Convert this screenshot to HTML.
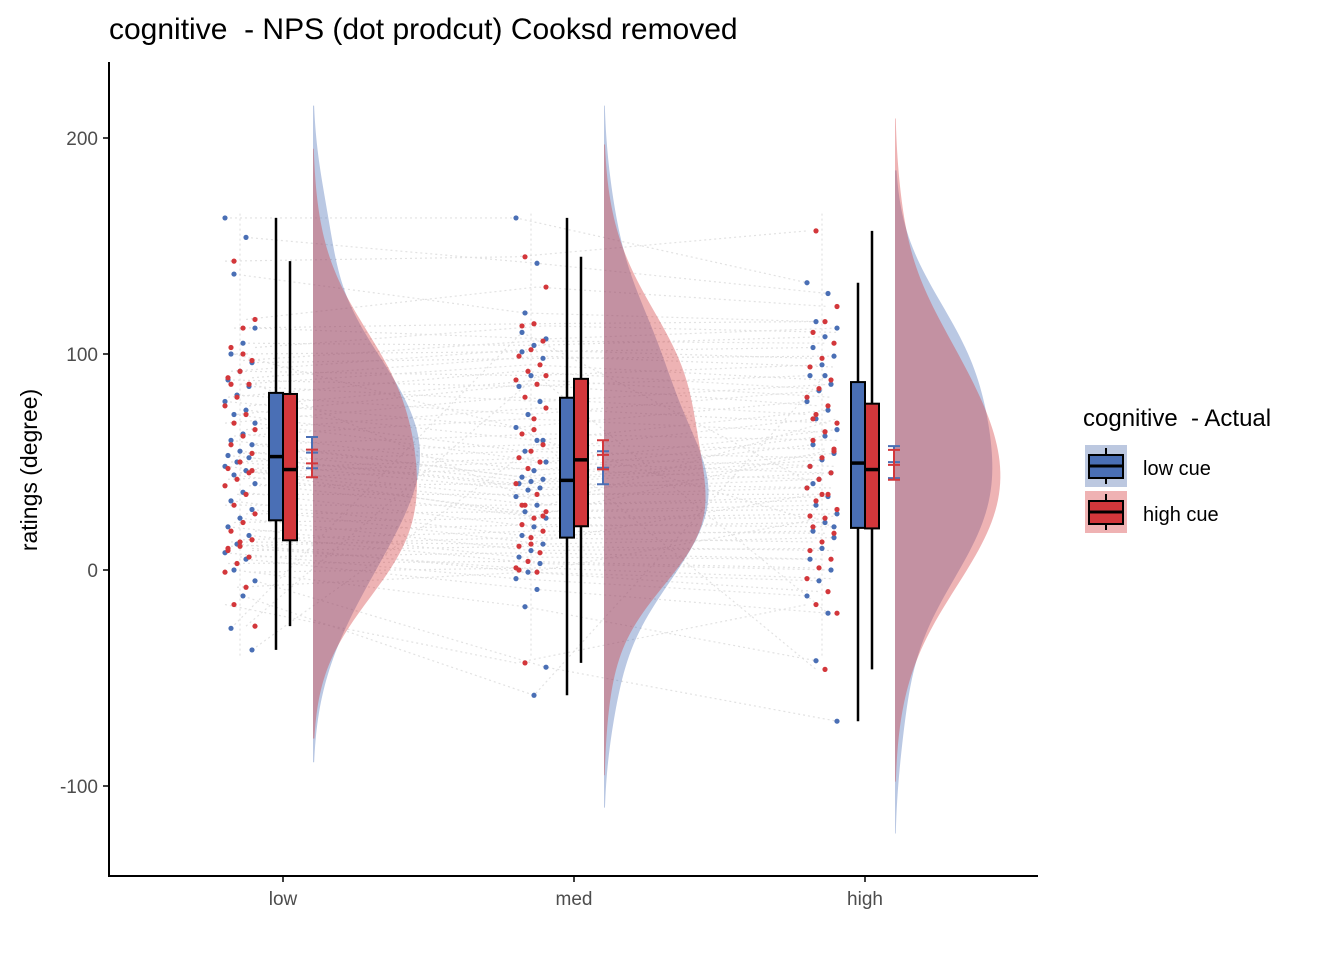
<!DOCTYPE html>
<html><head><meta charset="utf-8"><style>
body{margin:0;background:#fff;}
svg text{font-family:"Liberation Sans",Arial,sans-serif;white-space:pre;}
</style></head><body>
<svg id="chart" width="1344" height="960" viewBox="0 0 1344 960">
<text x="109" y="39" font-size="30" fill="#000" xml:space="preserve">cognitive  - NPS (dot prodcut) Cooksd removed</text>
<g id="lines"></g><g id="dens"></g><g id="pts"></g><g id="boxes"></g><g id="axes"></g>
<text transform="translate(37,470) rotate(-90)" text-anchor="middle" font-size="23" fill="#000">ratings (degree)</text>
<g>
<text x="1083" y="426" font-size="24" fill="#000" xml:space="preserve">cognitive  - Actual</text>
<g>
<rect x="1085" y="445" width="42" height="42" fill="#bcc8e0"/>
<line x1="1106" y1="448" x2="1106" y2="484" stroke="#000" stroke-width="2"/>
<rect x="1089" y="455" width="34" height="23" fill="#4a6fb5" stroke="#000" stroke-width="2"/>
<line x1="1089" y1="466" x2="1123" y2="466" stroke="#000" stroke-width="3"/>
<text x="1143" y="475" font-size="20" fill="#000">low cue</text></g>
<g>
<rect x="1085" y="491" width="42" height="42" fill="#efb2b3"/>
<line x1="1106" y1="494" x2="1106" y2="530" stroke="#000" stroke-width="2"/>
<rect x="1089" y="501" width="34" height="23" fill="#d3373b" stroke="#000" stroke-width="2"/>
<line x1="1089" y1="512" x2="1123" y2="512" stroke="#000" stroke-width="3"/>
<text x="1143" y="521" font-size="20" fill="#000">high cue</text></g>
</g>
</svg>
<script>
const categories=["low","med","high"];
const yTicks=[-100,0,100,200];
const lowCueLow=[163,154,137,112,105,100,96,92,88,85,81,78,74,72,68,63,60,58,55,53,52,50,48,46,44,40,36,32,28,24,20,16,12,8,5,0,-5,-12,-27,-37];
const highCueLow=[143,116,112,103,97,92,89,86,80,76,72,68,65,62,58,54,50,47,45,42,39,35,30,26,22,18,14,11,9,6,3,-1,-8,-16,-26,100,86,46,13,10];
const lowCueMed=[163,142,119,107,104,101,98,90,85,78,72,66,60,55,50,46,43,42,41,40,38,37,34,30,27,24,20,16,12,9,6,3,-1,-4,-9,-17,-45,-58,110,60];
const highCueMed=[145,131,114,113,106,102,99,95,92,88,86,80,75,70,63,58,55,52,50,47,40,35,30,27,24,21,18,15,11,8,4,1,-1,-43,90,65,30,25,12,0];
const lowCueHigh=[133,128,115,112,108,103,99,95,90,86,83,78,74,70,65,62,58,54,51,48,45,42,38,34,30,26,22,18,15,10,5,0,-5,-12,-20,-42,-70,90,40,20];
const highCueHigh=[157,122,115,110,105,98,94,88,84,80,76,72,68,64,60,56,52,48,45,42,38,35,32,28,24,20,17,13,9,5,1,-4,-10,-16,-20,-46,70,55,35,25];
const series={low:[lowCueLow,lowCueMed,lowCueHigh],high:[highCueLow,highCueMed,highCueHigh]};

const NS="http://www.w3.org/2000/svg";
const y=v=>570-v*2.16;
const xc=i=>283+i*291;
function mk(tag,attrs,parent){const e=document.createElementNS(NS,tag);for(const k in attrs)e.setAttribute(k,attrs[k]);parent.appendChild(e);return e;}
const col={low:"#4a6fb5",high:"#d3373b"};
const G=id=>document.getElementById(id);

["low","high"].forEach(s=>{
  const arr=series[s];
  for(let j=0;j<arr[0].length;j++){
    let d="";
    for(let i=0;i<3;i++){const jx=xc(i)-43+((j*7)%11-5)*3;d+=(i?"L":"M")+jx+","+y(arr[i][j]);}
    const p=mk("path",{d:d,fill:"none",stroke:"#e2e2e2","stroke-width":1.2,"stroke-dasharray":"2,3"},G("lines"));
    
    
  }
});
for(let i=0;i<3;i++){const l=mk("line",{x1:xc(i)-43,x2:xc(i)-43,y1:y(165),y2:y(-40),stroke:"#ddd","stroke-dasharray":"2,3"},G("lines"));}

function kde(a,v,bw){let s=0;a.forEach(d=>{const z=(v-d)/bw;s+=Math.exp(-z*z/2);});return s/(a.length*bw*Math.sqrt(2*Math.PI));}
const bw=26;let maxD=0;const dens=[];
["low","high"].forEach(s=>series[s].forEach((a,i)=>{
  const lo=Math.min(...a)-2*bw, hi=Math.max(...a)+2*bw, pts=[];
  for(let k=0;k<=120;k++){const v=lo+(hi-lo)*k/120;const d=kde(a,v,bw);maxD=Math.max(maxD,d);pts.push([v,d]);}
  dens.push({s,i,pts});
}));
dens.forEach(o=>{
  const x0=xc(o.i)+30;
  let d="M"+x0+","+y(o.pts[0][0]);
  o.pts.forEach(p=>{d+="L"+(x0+p[1]/maxD*107)+","+y(p[0]);});
  d+="L"+x0+","+y(o.pts[o.pts.length-1][0])+"Z";
  const p=mk("path",{d:d,fill:col[o.s],"fill-opacity":0.38},G("dens"));
  
  
});

["low","high"].forEach(s=>series[s].forEach((a,i)=>{
  a.forEach((v,j)=>{
    const c=mk("circle",{cx:xc(i)-43+((j*7+(s=="high"?3:0))%11-5)*3,cy:y(v),r:2.6,fill:col[s]},G("pts"));
    
    
  });
}));

function q(a,p){const b=[...a].sort((m,n)=>m-n);const h=(b.length-1)*p,l=Math.floor(h);return b[l]+(b[Math.min(l+1,b.length-1)]-b[l])*(h-l);}
["low","high"].forEach((s,si)=>series[s].forEach((a,i)=>{
  const cx=xc(i)+(si?7:-7);
  const q1=q(a,.25),md=q(a,.5),q3=q(a,.75),iqr=q3-q1;
  const wl=Math.min(...a.filter(v=>v>=q1-1.5*iqr)),wh=Math.max(...a.filter(v=>v<=q3+1.5*iqr));
  const g=mk("g",{},G("boxes"));
  
  
  mk("line",{x1:cx,x2:cx,y1:y(wh),y2:y(wl),stroke:"#000","stroke-width":2.5},g);
  mk("rect",{x:cx-7,y:y(q3),width:14,height:y(q1)-y(q3),fill:col[s],stroke:"#000","stroke-width":2},g);
  mk("line",{x1:cx-7,x2:cx+7,y1:y(md),y2:y(md),stroke:"#000","stroke-width":3.5},g);
  const mean=a.reduce((m,n)=>m+n,0)/a.length;
  const sd=Math.sqrt(a.reduce((m,n)=>m+(n-mean)**2,0)/(a.length-1));const se=sd/Math.sqrt(a.length);
  const ex=xc(i)+29;
  const e=mk("path",{d:`M${ex-6},${y(mean+se)}H${ex+6}M${ex},${y(mean+se)}V${y(mean-se)}M${ex-6},${y(mean-se)}H${ex+6}M${ex-6},${y(mean)}H${ex+6}`,stroke:col[s],"stroke-width":2,fill:"none"},G("boxes"));
  
  
}));

const ax=G("axes");
const yl=mk("line",{x1:109,x2:109,y1:62,y2:876,stroke:"#000","stroke-width":2},ax);
const xl=mk("line",{x1:108,x2:1038,y1:876,y2:876,stroke:"#000","stroke-width":2},ax);
yTicks.forEach(t=>{
  mk("line",{x1:103,x2:109,y1:y(t),y2:y(t),stroke:"#000","stroke-width":1.5},ax);
  const tx=mk("text",{x:98,y:y(t)+7,"text-anchor":"end","font-size":19,fill:"#4d4d4d"},ax);tx.textContent=t;
  
});
categories.forEach((c,i)=>{
  mk("line",{x1:xc(i),x2:xc(i),y1:876,y2:882,stroke:"#000","stroke-width":1.5},ax);
  const tx=mk("text",{x:xc(i),y:905,"text-anchor":"middle","font-size":19,fill:"#4d4d4d"},ax);tx.textContent=c;
  
});
</script>
</body></html>
